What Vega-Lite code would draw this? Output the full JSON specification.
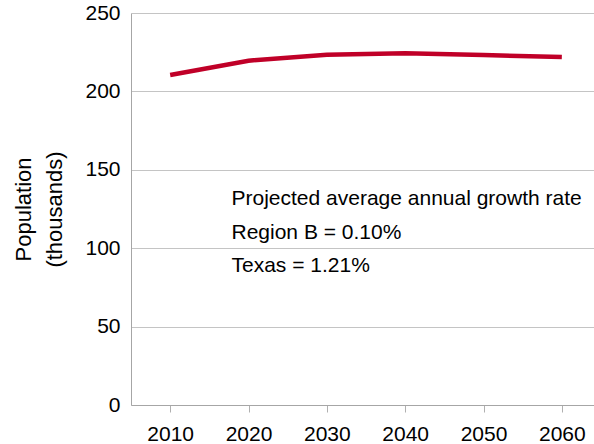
{
  "$schema": "https://vega.github.io/schema/vega-lite/v6.json",
  "width": 470,
  "height": 392,
  "autosize": "none",
  "padding": {"left": 131, "top": 13, "right": 0, "bottom": 39},
  "config": {"view": {"stroke": null}, "font": "Liberation Sans"},
  "datasets": {
    "pop": [
      {"year": "2010", "population": 210.5},
      {"year": "2020", "population": 219.6},
      {"year": "2030", "population": 223.4},
      {"year": "2040", "population": 224.3},
      {"year": "2050", "population": 223.2},
      {"year": "2060", "population": 221.9}
    ],
    "notes": [
      {"year": "2020", "y": 127.6, "label": "Projected average annual growth rate"},
      {"year": "2020", "y": 105.7, "label": "Region B = 0.10%"},
      {"year": "2020", "y": 84.6, "label": "Texas = 1.21%"}
    ]
  },
  "layer": [
    {
      "data": {"name": "pop"},
      "mark": {"type": "line", "color": "#C00028", "strokeWidth": 4.5},
      "encoding": {
        "x": {
          "field": "year",
          "type": "ordinal",
          "scale": {"type": "point", "padding": 0.5},
          "axis": {
            "title": null,
            "labelAngle": 0,
            "labelFontSize": 21,
            "labelColor": "#000000",
            "tickSize": 7,
            "tickColor": "#B0B0B0",
            "domainColor": "#A6A6A6",
            "labelPadding": 11
          }
        },
        "y": {
          "field": "population",
          "type": "quantitative",
          "scale": {"domain": [0, 250], "nice": false},
          "axis": {
            "values": [0, 50, 100, 150, 200, 250],
            "tickSize": 0,
            "labelPadding": 11,
            "labelFontSize": 21,
            "labelColor": "#000000",
            "domainColor": "#A6A6A6",
            "gridColor": "#C4C4C4",
            "title": ["Population", "(thousands)"],
            "titleFontSize": 22,
            "titleFontWeight": "normal",
            "titleColor": "#000000",
            "titleLineHeight": 31,
            "titlePadding": 18
          }
        }
      }
    },
    {
      "data": {"name": "notes"},
      "mark": {"type": "text", "align": "left", "baseline": "alphabetic", "fontSize": 21, "dx": -17, "color": "#000000"},
      "encoding": {
        "x": {"field": "year", "type": "ordinal"},
        "y": {"field": "y", "type": "quantitative"},
        "text": {"field": "label"}
      }
    }
  ]
}
